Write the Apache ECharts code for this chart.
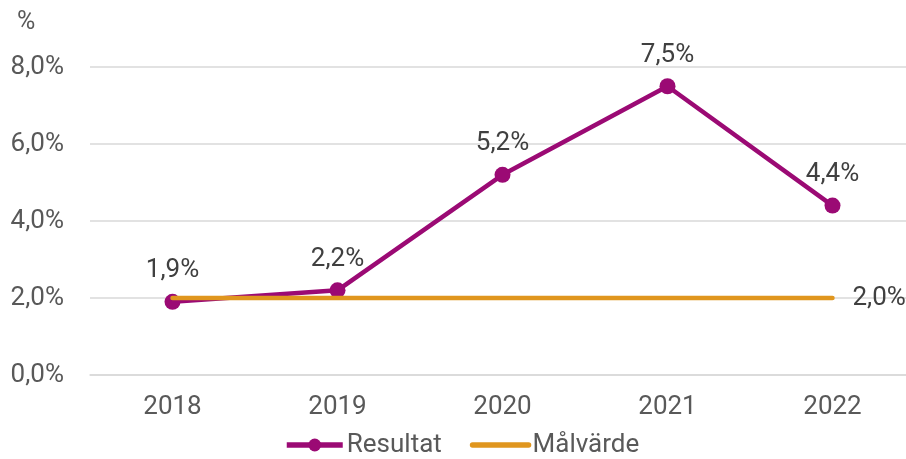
<!DOCTYPE html>
<html><head><meta charset="utf-8">
<script src="https://cdn.jsdelivr.net/npm/echarts@6/dist/echarts.min.js"></script>
<style>html,body{margin:0;padding:0;background:#fff}#c{width:906px;height:459px}</style>
</head><body><div id="c"></div>
<script>
const categories = ['2018','2019','2020','2021','2022'];
const resultat = [1.9, 2.2, 5.2, 7.5, 4.4];
const malvarde = [2.0, 2.0, 2.0, 2.0, 2.0];
const yTicks = [0, 2, 4, 6, 8];

const fmt = v => v.toFixed(1).replace('.', ',') + '%';
const chart = echarts.init(document.getElementById('c'));
chart.setOption({
  animation: false,
  textStyle: { fontFamily: 'Roboto' },
  grid: { left: 90, top: 67, width: 825, height: 308, containLabel: false, outerBoundsMode: 'none' },
  graphic: [{ type: 'text', left: 17, top: 10, style: { text: '%', fontSize: 25, fill: '#595959', fontFamily: 'Roboto' } }],
  legend: {
    top: 427, left: 279, itemWidth: 56, itemHeight: 16, itemGap: 28,
    textStyle: { fontSize: 26, color: '#595959', fontFamily: 'Roboto', padding: [0, 0, 0, -1] },
    lineStyle: { width: 5.5 },
    data: [
      { name: 'Resultat' },
      { name: 'Målvärde', itemStyle: { opacity: 0 } }
    ]
  },
  xAxis: {
    type: 'category', data: categories, boundaryGap: true,
    axisLine: { show: true, lineStyle: { color: '#d9d9d9', width: 1.5 } },
    axisTick: { show: false },
    axisLabel: { fontSize: 26, color: '#595959', margin: 19 }
  },
  yAxis: {
    type: 'value', min: yTicks[0], max: yTicks[yTicks.length - 1], interval: 2,
    axisLine: { show: false }, axisTick: { show: false },
    axisLabel: { fontSize: 26, color: '#595959', margin: 26, formatter: v => fmt(v) },
    splitLine: { lineStyle: { color: '#d9d9d9', width: 1.5 } }
  },
  series: [
    {
      name: 'Resultat', type: 'line', data: resultat,
      symbol: 'circle', symbolSize: 16,
      lineStyle: { color: '#9B0A74', width: 4.5 },
      itemStyle: { color: '#9B0A74' },
      label: { show: true, position: 'top', distance: 10, fontSize: 26, color: '#404040', formatter: p => fmt(p.value) },
      z: 2
    },
    {
      name: 'Målvärde', type: 'line', data: malvarde,
      symbol: 'none',
      lineStyle: { color: '#E0961E', width: 4.5, cap: 'round' },
      itemStyle: { color: '#E0961E' },
      endLabel: { show: true, fontSize: 26, color: '#404040', distance: 20, formatter: p => fmt(p.value) },
      z: 3
    }
  ]
});
</script></body></html>
